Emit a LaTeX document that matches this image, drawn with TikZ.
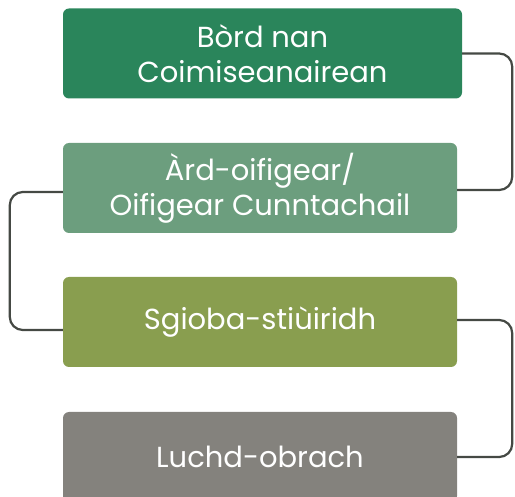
\documentclass[tikz,border=0pt]{standalone}
\usepackage{fontspec}
\setmainfont{Poppins}
\usepackage{xcolor}
\usepackage{tikz}
\usetikzlibrary{positioning, calc}
\definecolor{bordgreen}{HTML}{2A855B}
\definecolor{ardgreen}{HTML}{6C9E7E}
\definecolor{sgiobagreen}{HTML}{899E4F}
\definecolor{luchdgray}{HTML}{84827D}
\definecolor{linkgray}{HTML}{454944}
\tikzset{
    box/.style={rectangle, rounded corners=6pt, minimum width=394pt, minimum height=90pt, text=white, align=center, font=\fontsize{29}{35}\selectfont, inner sep=0pt},
    link/.style={draw=linkgray, line width=2.2pt, rounded corners=13pt}
}
\begin{document}
\begin{tikzpicture}[x=1pt, y=-1pt]
    \useasboundingbox (0,0) rectangle (515,497);

    % Levels
    \node[box, fill=bordgreen, minimum width=399pt] (bord) at (262.5, 53.5) {Bòrd nan\\Coimiseanairean};
    \node[box, fill=ardgreen] (ard) at (260, 188) {Àrd-oifigear/\\Oifigear Cunntachail};
    \node[box, fill=sgiobagreen] (sgioba) at (260, 322) {Sgioba-stiùiridh};
    \node[box, fill=luchdgray] (luchd) at (260, 457) {Luchd-obrach};

    % Links
    \draw[link] (bord.east) -- ++(50,0) |- ([yshift=-2pt]ard.east);
    \draw[link] ([yshift=-4pt]ard.west) -- ++(-53,0) |- ([yshift=-8pt]sgioba.west);
    \draw[link] ([yshift=2pt]sgioba.east) -- ++(55,0) |- (luchd.east);
\end{tikzpicture}
\end{document}
